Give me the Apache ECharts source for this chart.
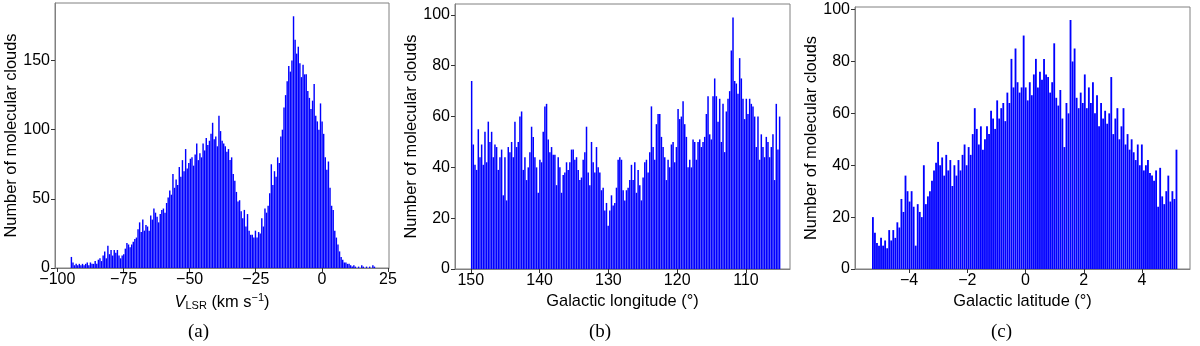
<!DOCTYPE html>
<html>
<head>
<meta charset="utf-8">
<script src="https://cdn.jsdelivr.net/npm/echarts@6/dist/echarts.min.js"></script>
<style>
html, body { margin: 0; padding: 0; background: #fff; }
#chart { width: 1200px; height: 346px; }
</style>
</head>
<body>
<div id="chart"></div>
<script>
// (a) V_LSR histogram, 0.6 km/s bins from -95
var vlsrStart = -95.0;
var vlsrBin = 0.6;
var vlsrCounts = [
    8, 4, 2, 3, 2, 3, 2, 3, 2, 3,
    4, 2, 4, 3, 3, 5, 3, 6, 7, 5,
    9, 12, 7, 16, 10, 13, 9, 13, 11, 13,
    9, 7, 9, 10, 14, 18, 17, 15, 17, 19,
    21, 22, 28, 33, 26, 35, 27, 31, 30, 27,
    38, 35, 43, 40, 37, 33, 39, 42, 43, 40,
    47, 51, 56, 53, 68, 58, 64, 60, 73, 66,
    78, 70, 86, 72, 76, 79, 80, 74, 82, 90,
    78, 83, 80, 90, 85, 94, 89, 92, 97, 105,
    93, 95, 88, 110, 99, 92, 90, 88, 84, 86,
    78, 80, 68, 63, 55, 48, 49, 41, 36, 42,
    30, 39, 27, 24, 24, 22, 27, 22, 26, 25,
    36, 30, 43, 40, 45, 54, 75, 60, 70, 66,
    80, 76, 95, 100, 116, 125, 135, 146, 142, 150,
    182, 165, 155, 160, 148, 138, 147, 140, 140, 128,
    123, 115, 121, 133, 110, 106, 100, 119, 106, 97,
    80, 71, 77, 58, 45, 42, 27, 22, 17, 12,
    8, 6, 4, 4, 3, 3, 2, 1, 2, 1,
    0, 1, 0, 2, 1, 0, 1, 0, 1, 0,
    2, 1
];
var vlsrXTicks = [-100, -75, -50, -25, 0, 25];
var vlsrYTicks = [0, 50, 100, 150];

// (b) Galactic longitude histogram, from 150 down to 105
var lonStart = 150;
var lonBin = -0.242;
var lonCounts = [
    74, 49, 41, 39, 55, 44, 49, 41, 54, 42,
    58, 50, 54, 44, 49, 48, 39, 44, 47, 29,
    44, 27, 48, 46, 50, 44, 58, 48, 50, 60,
    62, 39, 44, 35, 40, 46, 56, 52, 44, 40,
    30, 43, 42, 54, 64, 65, 51, 46, 48, 45,
    45, 33, 44, 40, 30, 37, 38, 42, 39, 42,
    47, 47, 43, 44, 39, 35, 36, 43, 46, 56,
    38, 33, 50, 42, 38, 48, 40, 38, 31, 32,
    23, 26, 17, 23, 29, 25, 26, 32, 43, 44,
    43, 31, 27, 31, 32, 35, 41, 35, 42, 30,
    39, 33, 27, 36, 42, 43, 38, 46, 64, 48,
    43, 57, 61, 61, 52, 48, 44, 35, 43, 40,
    49, 50, 42, 48, 63, 59, 60, 66, 57, 52,
    40, 43, 40, 51, 50, 43, 50, 51, 48, 50,
    52, 61, 68, 53, 51, 68, 75, 68, 58, 67,
    50, 65, 46, 62, 67, 70, 86, 99, 74, 73,
    69, 83, 75, 67, 59, 67, 61, 67, 65, 64,
    60, 48, 60, 43, 53, 48, 44, 52, 50, 44,
    48, 53, 35, 65, 47, 60
];
var lonXTicks = [150, 140, 130, 120, 110];
var lonYTicks = [0, 20, 40, 60, 80, 100];

// (c) Galactic latitude histogram, 0.07 deg bins from -5.28
var latStart = -5.28;
var latBin = 0.07;
var latCounts = [
    20, 14, 10, 9, 12, 9, 11, 8, 15, 11,
    15, 12, 18, 16, 27, 22, 36, 30, 26, 30,
    24, 9, 25, 22, 20, 40, 25, 28, 30, 34,
    38, 41, 49, 40, 43, 36, 44, 38, 42, 32,
    40, 36, 42, 38, 44, 48, 40, 47, 44, 52,
    62, 54, 48, 55, 46, 50, 55, 52, 61, 58,
    54, 65, 58, 62, 64, 57, 68, 64, 81, 70,
    85, 72, 68, 70, 90, 70, 65, 72, 67, 75,
    81, 70, 76, 73, 81, 75, 74, 68, 72, 87,
    66, 63, 69, 58, 47, 64, 60, 96, 80, 85,
    66, 62, 68, 64, 75, 62, 70, 64, 72, 60,
    67, 55, 64, 58, 61, 56, 60, 74, 52, 58,
    62, 50, 55, 62, 48, 52, 46, 50, 45, 42,
    48, 40, 48, 38, 40, 42, 37, 36, 34, 38,
    24, 39, 28, 25, 30, 36, 26, 30, 27, 46
];
var latXTicks = [-4, -2, 0, 2, 4];
var latYTicks = [0, 20, 40, 60, 80, 100];

var FONT = 'Liberation Sans';
var BLUE = '#0000ff';
var FRAME = '#808080';
var TICK_SIZE = 16;
var NAME_SIZE = 16.4;

var chart = echarts.init(document.getElementById('chart'), null, { renderer: 'canvas' });

function binData(start, width, counts) {
    return counts.map(function (c, i) {
        return [start + i * width, start + (i + 1) * width, c];
    });
}

function renderBar(params, api) {
    var top = api.coord([api.value(0), api.value(2)]);
    var base = api.coord([api.value(1), 0]);
    var x = Math.min(top[0], base[0]);
    var w = Math.abs(base[0] - top[0]);
    return {
        type: 'rect',
        shape: { x: x + w * 0.05, y: top[1], width: w * 0.9, height: base[1] - top[1] },
        style: { fill: BLUE }
    };
}

function minus(v) {
    return String(v).replace('-', '\u2212');
}

function xAxis(idx, min, max, ticks, name, inverse) {
    return {
        type: 'value',
        gridIndex: idx,
        min: min,
        max: max,
        inverse: inverse,
        z: 5,
        axisLine: { show: true, onZero: false, lineStyle: { color: FRAME, width: 1 } },
        axisTick: { show: true, inside: false, length: 4, customValues: ticks, lineStyle: { color: '#333' } },
        axisLabel: { customValues: ticks, margin: 4, color: '#000', fontSize: TICK_SIZE, fontFamily: FONT, formatter: minus },
        splitLine: { show: false },
        name: name,
        nameLocation: 'middle',
        nameGap: 21,
        nameTextStyle: {
            color: '#000', fontSize: NAME_SIZE, fontFamily: FONT,
            rich: {
                i: { fontStyle: 'italic', fontSize: NAME_SIZE, fontFamily: FONT, color: '#000' },
                sub: { fontSize: 11, fontFamily: FONT, color: '#000', padding: [7, 0, 0, 0] },
                sup: { fontSize: 11, fontFamily: FONT, color: '#000', padding: [0, 0, 8, 0] }
            }
        }
    };
}

function yAxis(idx, max, ticks) {
    return {
        type: 'value',
        gridIndex: idx,
        min: 0,
        max: max,
        z: 5,
        axisLine: { show: true, onZero: false, lineStyle: { color: FRAME, width: 1 } },
        axisTick: { show: true, inside: false, length: 4, customValues: ticks, lineStyle: { color: '#333' } },
        axisLabel: { customValues: ticks, margin: 5, color: '#000', fontSize: TICK_SIZE, fontFamily: FONT },
        splitLine: { show: false },
        name: 'Number of molecular clouds',
        nameLocation: 'middle',
        nameGap: 36,
        nameTextStyle: { color: '#000', fontSize: NAME_SIZE, fontFamily: FONT }
    };
}

function histSeries(idx, start, width, counts) {
    return {
        type: 'custom',
        xAxisIndex: idx,
        yAxisIndex: idx,
        clip: true,
        silent: true,
        renderItem: renderBar,
        encode: { x: [0, 1], y: 2 },
        data: binData(start, width, counts)
    };
}

function panelLabel(x, text) {
    return {
        type: 'text',
        left: x,
        top: 323,
        style: { text: text, fontSize: 19, fontFamily: 'Liberation Serif', fill: '#000' }
    };
}

var option = {
    animation: false,
    backgroundColor: '#fff',
    grid: [
        { left: 55, top: 3, width: 334, height: 265, show: true, borderColor: FRAME, borderWidth: 1, backgroundColor: 'transparent' },
        { left: 455, top: 4, width: 335, height: 265, show: true, borderColor: FRAME, borderWidth: 1, backgroundColor: 'transparent' },
        { left: 855, top: 7, width: 335, height: 262, show: true, borderColor: FRAME, borderWidth: 1, backgroundColor: 'transparent' }
    ],
    xAxis: [
        xAxis(0, -100.9, 25.4, vlsrXTicks, '{i|V}{sub|LSR} (km s{sup|\u22121})', false),
        xAxis(1, 103.6, 152.3, lonXTicks, 'Galactic longitude (\u00b0)', true),
        xAxis(2, -5.86, 5.65, latXTicks, 'Galactic latitude (\u00b0)', false)
    ],
    yAxis: [
        yAxis(0, 191.6, vlsrYTicks),
        yAxis(1, 104.3, lonYTicks),
        yAxis(2, 101, latYTicks)
    ],
    series: [
        histSeries(0, vlsrStart, vlsrBin, vlsrCounts),
        histSeries(1, lonStart, lonBin, lonCounts),
        histSeries(2, latStart, latBin, latCounts)
    ],
    graphic: [
        panelLabel(188, '(a)'),
        panelLabel(589, '(b)'),
        panelLabel(991, '(c)')
    ]
};

chart.setOption(option);
</script>
</body>
</html>
